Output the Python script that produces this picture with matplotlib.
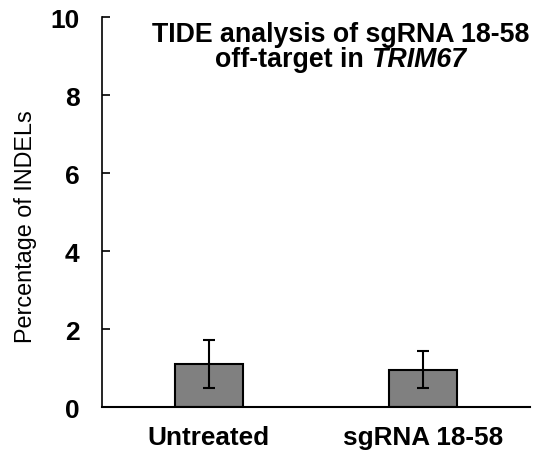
import matplotlib
matplotlib.use("Agg")
import matplotlib.pyplot as plt

categories = ["Untreated", "sgRNA 18-58"]
values = [1.1, 0.96]
errors = [0.61, 0.48]
yticks = [0, 2, 4, 6, 8, 10]

plt.rcParams['font.family'] = ['Liberation Sans', 'DejaVu Sans']

fig = plt.figure(figsize=(5.36, 4.56), dpi=100)
ax = fig.add_axes([0.19, 0.105, 0.799, 0.8555])

x = list(range(len(categories)))
ax.bar(x, values, width=0.32, color='#808080', edgecolor='black', linewidth=1.5, zorder=2)
ax.errorbar(x, values, yerr=errors, fmt='none', ecolor='black', elinewidth=1.5,
            capsize=4, capthick=1.5, zorder=3)

ax.set_xlim(-0.5, 1.5)
ax.set_ylim(0, 10)
ax.set_yticks(yticks)
ax.set_yticklabels([str(t) for t in yticks], fontsize=19, fontweight='bold')
ax.set_xticks(x)
ax.set_xticklabels(categories, fontsize=18.8, fontweight='bold')
ax.tick_params(axis='x', length=0, pad=13)
ax.tick_params(axis='y', length=5.5, width=1.2, direction='in', pad=16)
for s in ['top', 'right']:
    ax.spines[s].set_visible(False)
ax.spines['left'].set_linewidth(1.2)
ax.spines['bottom'].set_linewidth(1.5)
ax.set_ylabel("Percentage of INDELs", fontsize=16.8)
ax.yaxis.set_label_coords(-0.152, 0.465)

fs_title = 19.3
ax.text(0.558, 0.956, "TIDE analysis of sgRNA 18-58", transform=ax.transAxes,
        ha='center', va='center', fontsize=fs_title, fontweight='bold')

fig.canvas.draw()
r = fig.canvas.get_renderer()
t1 = fig.text(0, 0, "off-target in ", fontsize=fs_title, fontweight='bold')
t2 = fig.text(0, 0, "TRIM67", fontsize=fs_title, fontweight='bold', style='italic')
w1 = t1.get_window_extent(r).width
w2 = t2.get_window_extent(r).width
cx, cy = ax.transAxes.transform((0.558, 0.892))
x0 = cx - (w1 + w2) / 2
inv = fig.transFigure.inverted()
t1.set_position(inv.transform((x0, cy)))
t1.set_va('center')
t2.set_position(inv.transform((x0 + w1, cy)))
t2.set_va('center')

fig.savefig("out.png", dpi=100)
